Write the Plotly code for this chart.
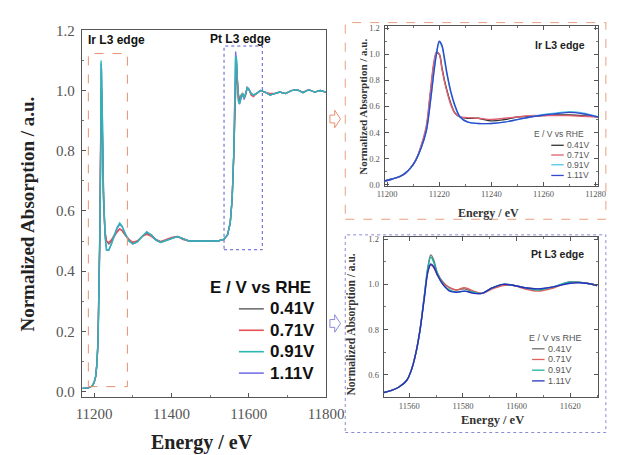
import plotly.graph_objects as go

W, H = 621, 455

# ---------------- data ----------------
series_names = ["0.41V", "0.71V", "0.91V", "1.11V"]
legend_title = "E / V vs RHE"

energy_main = [11170, 11185, 11195, 11200, 11204, 11207, 11210, 11213, 11215, 11217,
               11218, 11219, 11221, 11224, 11228, 11232, 11238, 11245, 11252, 11259,
               11266, 11272, 11280, 11290, 11300, 11312, 11324, 11336, 11348, 11360,
               11372, 11386, 11400, 11415, 11430, 11445, 11460, 11480, 11500, 11520,
               11535, 11545, 11552, 11557, 11561, 11564, 11566, 11568, 11570, 11573,
               11576, 11580, 11584, 11588, 11592, 11596, 11600, 11606, 11612, 11620,
               11630, 11642, 11655, 11668, 11680, 11695, 11710, 11725, 11740, 11755,
               11770, 11785, 11800]

main_041 = [0.01, 0.012, 0.018, 0.03, 0.05, 0.09, 0.17, 0.35, 0.55, 0.85,
            1.0, 1.0, 0.88, 0.65, 0.53, 0.5, 0.49, 0.5, 0.515, 0.53,
            0.54, 0.535, 0.52, 0.505, 0.495, 0.5, 0.515, 0.525, 0.52, 0.505,
            0.498, 0.503, 0.51, 0.515, 0.508, 0.5, 0.5, 0.5, 0.498, 0.5,
            0.505, 0.52, 0.56, 0.64, 0.78, 0.95, 1.08, 1.1, 1.04, 0.98,
            0.965, 0.985, 0.99, 0.975, 0.99, 1.01, 1.005, 0.99, 0.985, 0.99,
            1.0, 0.995, 0.985, 0.99, 0.995, 0.99, 1.0, 1.003, 0.993, 1.003,
            0.995, 1.0, 0.995]
main_071 = [0.01, 0.012, 0.018, 0.03, 0.05, 0.09, 0.17, 0.36, 0.56, 0.86,
            1.01, 1.0, 0.87, 0.64, 0.53, 0.5, 0.495, 0.505, 0.52, 0.53,
            0.54, 0.535, 0.52, 0.505, 0.495, 0.5, 0.515, 0.522, 0.515, 0.503,
            0.498, 0.505, 0.512, 0.515, 0.505, 0.5, 0.5, 0.5, 0.498, 0.5,
            0.505, 0.52, 0.56, 0.64, 0.78, 0.95, 1.07, 1.09, 1.04, 0.99,
            0.975, 0.985, 0.99, 0.975, 0.985, 1.01, 1.005, 0.985, 0.98, 0.99,
            1.0, 0.995, 0.99, 0.99, 0.995, 0.99, 1.0, 1.003, 0.995, 1.003,
            0.995, 1.0, 0.995]
main_091 = [0.01, 0.012, 0.018, 0.03, 0.05, 0.09, 0.16, 0.33, 0.52, 0.82,
            1.1, 1.06, 0.93, 0.68, 0.52, 0.47, 0.47, 0.49, 0.52, 0.545,
            0.56, 0.55, 0.525, 0.5, 0.49, 0.497, 0.515, 0.53, 0.52, 0.503,
            0.495, 0.502, 0.51, 0.515, 0.508, 0.5, 0.5, 0.5, 0.498, 0.5,
            0.505, 0.52, 0.56, 0.64, 0.78, 0.96, 1.11, 1.11, 1.03, 0.97,
            0.955, 0.98, 0.99, 0.975, 0.99, 1.01, 1.005, 0.99, 0.985, 0.99,
            1.0, 0.995, 0.985, 0.99, 0.995, 0.99, 1.0, 1.003, 0.993, 1.003,
            0.995, 1.0, 0.995]
main_111 = [0.01, 0.012, 0.018, 0.03, 0.05, 0.09, 0.16, 0.33, 0.52, 0.82,
            1.09, 1.07, 0.94, 0.68, 0.52, 0.47, 0.47, 0.49, 0.515, 0.54,
            0.555, 0.548, 0.525, 0.5, 0.49, 0.497, 0.515, 0.53, 0.52, 0.503,
            0.495, 0.502, 0.51, 0.515, 0.508, 0.5, 0.5, 0.5, 0.498, 0.5,
            0.505, 0.52, 0.56, 0.64, 0.79, 0.97, 1.13, 1.1, 1.02, 0.965,
            0.955, 0.975, 0.99, 0.97, 0.99, 1.01, 1.005, 0.99, 0.985, 0.99,
            1.0, 0.995, 0.985, 0.99, 0.995, 0.99, 1.0, 1.003, 0.993, 1.003,
            0.995, 1.0, 0.995]

energy_ir = [11199, 11202, 11205, 11207, 11209, 11211, 11213, 11215, 11216.5, 11218,
             11219, 11220, 11221, 11222, 11223, 11224.5, 11226, 11228, 11231, 11235,
             11240, 11245, 11250, 11255, 11260, 11265, 11270, 11275, 11281]
ir_041 = [0.03, 0.045, 0.065, 0.09, 0.13, 0.19, 0.29, 0.43, 0.68, 0.93,
          1.01, 1.00, 0.90, 0.80, 0.72, 0.62, 0.55, 0.52, 0.51, 0.51,
          0.49, 0.50, 0.52, 0.525, 0.53, 0.535, 0.535, 0.53, 0.52]
ir_071 = [0.03, 0.045, 0.065, 0.09, 0.13, 0.19, 0.30, 0.45, 0.70, 0.95,
          1.02, 1.00, 0.89, 0.79, 0.71, 0.61, 0.55, 0.52, 0.515, 0.51,
          0.50, 0.51, 0.52, 0.53, 0.53, 0.53, 0.53, 0.525, 0.52]
ir_091 = [0.03, 0.045, 0.065, 0.09, 0.13, 0.19, 0.28, 0.41, 0.62, 0.88,
          1.02, 1.09, 1.06, 0.95, 0.84, 0.70, 0.60, 0.52, 0.48, 0.47,
          0.47, 0.48, 0.50, 0.52, 0.54, 0.55, 0.56, 0.55, 0.52]
ir_111 = [0.03, 0.045, 0.065, 0.09, 0.13, 0.19, 0.28, 0.41, 0.62, 0.87,
          1.01, 1.10, 1.07, 0.97, 0.85, 0.71, 0.61, 0.52, 0.48, 0.47,
          0.47, 0.48, 0.50, 0.52, 0.535, 0.545, 0.555, 0.545, 0.52]

energy_pt = [11550, 11553, 11556, 11559, 11561, 11562.5, 11564, 11565.5, 11567, 11568,
             11569, 11570.5, 11572.5, 11575, 11577.5, 11580.5, 11584, 11587, 11591, 11595,
             11599, 11603, 11608, 11614, 11620, 11626, 11630]
pt_041 = [0.52, 0.53, 0.545, 0.575, 0.63, 0.70, 0.80, 0.94, 1.08, 1.13,
          1.11, 1.05, 1.01, 0.985, 0.975, 0.98, 0.965, 0.96, 0.985, 1.00,
          0.995, 0.985, 0.98, 0.99, 1.01, 1.005, 0.995]
pt_071 = [0.52, 0.53, 0.545, 0.575, 0.63, 0.70, 0.80, 0.94, 1.06, 1.085,
          1.075, 1.04, 1.005, 0.985, 0.975, 0.985, 0.97, 0.96, 0.98, 0.995,
          0.995, 0.98, 0.97, 0.985, 1.01, 1.005, 0.995]
pt_091 = [0.52, 0.53, 0.545, 0.575, 0.63, 0.70, 0.80, 0.94, 1.08, 1.12,
          1.10, 1.045, 1.0, 0.975, 0.965, 0.97, 0.965, 0.96, 0.985, 1.00,
          0.995, 0.985, 0.975, 0.99, 1.01, 1.005, 0.995]
pt_111 = [0.52, 0.53, 0.545, 0.575, 0.63, 0.70, 0.80, 0.93, 1.06, 1.09,
          1.08, 1.04, 1.0, 0.97, 0.965, 0.97, 0.96, 0.96, 0.985, 1.00,
          0.995, 0.985, 0.98, 0.99, 1.005, 1.005, 0.995]

# highlighted regions in the main panel (data units)
ir_box = [11185, 11286, 0.016, 1.123]
pt_box = [11536, 11635, 0.471, 1.148]

# ---------------- styling ----------------
main_colors = ["#707070", "#e8505a", "#2ab8b0", "#7474e4"]
ir_colors = ["#333333", "#e06070", "#50c8e8", "#3048d0"]
pt_colors = ["#707070", "#e06060", "#20b0a0", "#2830c0"]
SERIF = "Liberation Serif"
SANS = "Liberation Sans"


def px(x):
    return x / W


def py(y):
    return 1 - y / H


fig = go.Figure()

for name, vals, col in zip(series_names, [main_041, main_071, main_111, main_091],
                           [main_colors[0], main_colors[1], main_colors[3], main_colors[2]]):
    fig.add_trace(go.Scatter(x=energy_main, y=vals, mode="lines", name=name,
                             line=dict(color=col, width=1.4), xaxis="x", yaxis="y",
                             showlegend=False))
for name, vals, col in zip(series_names, [ir_041, ir_071, ir_091, ir_111], ir_colors):
    fig.add_trace(go.Scatter(x=energy_ir, y=vals, mode="lines", name=name,
                             line=dict(color=col, width=1.4, shape="spline"),
                             xaxis="x2", yaxis="y2", showlegend=False))
for name, vals, col in zip(series_names, [pt_041, pt_071, pt_091, pt_111], pt_colors):
    fig.add_trace(go.Scatter(x=energy_pt, y=vals, mode="lines", name=name,
                             line=dict(color=col, width=1.4, shape="spline"),
                             xaxis="x3", yaxis="y3", showlegend=False))


def ax(domain, rng, dtick, minor, size, fmt, tick0=None, anchor=None, mirror=True, standoff=3):
    d = dict(domain=domain, range=rng, dtick=dtick, showgrid=False, zeroline=False,
             showline=True, linecolor="#555", linewidth=1, mirror=mirror,
             ticks="inside", ticklen=4, tickcolor="#555", tickformat=fmt,
             tickfont=dict(family=SERIF, size=size, color="#555"),
             minor=dict(ticks="inside", ticklen=2, dtick=minor, tickcolor="#777"),
             anchor=anchor, ticklabelstandoff=standoff)
    if tick0 is not None:
        d["tick0"] = tick0
    return d


fig.update_layout(
    width=W, height=H, margin=dict(l=0, r=0, t=0, b=0),
    paper_bgcolor="white", plot_bgcolor="white", showlegend=False,
    xaxis=ax([px(77), px(332)], [11168, 11800], 200, 100, 15, "d", tick0=11200, anchor="y"),
    yaxis=ax([py(400), py(23)], [-0.02, 1.2], 0.2, 0.1, 15, ".1f", tick0=0, anchor="x"),
    xaxis2=ax([px(393), px(616)], [11199, 11281], 20, 10, 8.5, "d", tick0=11200, anchor="y2",
              mirror="ticks", standoff=0),
    yaxis2=ax([py(183), py(18)], [-0.01, 1.22], 0.2, 0.1, 8.5, ".1f", tick0=0, anchor="x2",
              mirror="ticks", standoff=2),
    xaxis3=ax([px(392), px(616)], [11550.4, 11630.4], 20, 10, 8.5, "d", tick0=11560, anchor="y3",
              mirror="ticks", standoff=0),
    yaxis3=ax([py(400), py(235)], [0.5, 1.21], 0.2, 0.1, 8.5, ".1f", tick0=0, anchor="x3",
              mirror="ticks", standoff=2),
)

shapes = []
# main highlight rectangles
shapes.append(dict(type="rect", xref="x", yref="y", x0=ir_box[0], x1=ir_box[1], y0=ir_box[2], y1=ir_box[3],
                   line=dict(color="#e8906e", width=1, dash="dash")))
shapes.append(dict(type="rect", xref="x", yref="y", x0=pt_box[0], x1=pt_box[1], y0=pt_box[2], y1=pt_box[3],
                   line=dict(color="#5a5ad0", width=1, dash="dot")))
# inset frames
shapes.append(dict(type="rect", xref="paper", yref="paper", x0=px(352), x1=px(624), y0=py(217), y1=py(15),
                   line=dict(color="#e8a080", width=1, dash="dash")))
shapes.append(dict(type="rect", xref="paper", yref="paper", x0=px(352), x1=px(624), y0=py(436), y1=py(233),
                   line=dict(color="#8a8ad8", width=1, dash="dot")))


def arrow(x0, yc, color):
    pts = [(x0, yc - 4), (x0 + 5, yc - 4), (x0 + 5, yc - 9), (x0 + 11, yc),
           (x0 + 5, yc + 9), (x0 + 5, yc + 4), (x0, yc + 4)]
    path = "M " + " L ".join(f"{px(a):.5f},{py(b):.5f}" for a, b in pts) + " Z"
    return dict(type="path", xref="paper", yref="paper", path=path,
                line=dict(color=color, width=1), fillcolor="rgba(0,0,0,0)")


shapes.append(arrow(336, 114, "#e8906e"))
shapes.append(arrow(336, 324, "#8a8ad8"))

annotations = []


def text(x, y, s, size, family=SANS, bold=False, color="#111", xanchor="left", angle=0):
    annotations.append(dict(xref="paper", yref="paper", x=px(x), y=py(y), text=s, showarrow=False,
                            xanchor=xanchor, yanchor="middle", textangle=angle,
                            font=dict(family=family, size=size, color=color,
                                      weight="bold" if bold else "normal")))


# titles
text(20, 212, "Normalized Absorption / a.u.", 19, SERIF, True, "#222", "center", -90)
text(202, 446, "Energy / eV", 20, SERIF, True, "#222", "center")
text(371, 101, "Normalized Absorption / a.u.", 11, SERIF, True, "#333", "center", -90)
text(502, 211, "Energy / eV", 12, SERIF, True, "#333", "center")
text(358, 325, "Normalized Absorption / a.u.", 11.5, SERIF, True, "#333", "center", -90)
text(506, 423, "Energy / eV", 12.5, SERIF, True, "#333", "center")
# edge labels
text(81, 33, "Ir L3 edge", 12, SANS, True, "#111")
text(209, 32, "Pt L3 edge", 12, SANS, True, "#111")
text(548, 38, "Ir L3 edge", 10.5, SANS, True, "#222")
text(544, 253, "Pt L3 edge", 10.5, SANS, True, "#222")


def legend(title_x, title_y, line_x0, line_x1, text_x, ys, colors, size, bold, tcolor, lw):
    text(title_x, title_y, legend_title, size, SANS, bold, tcolor, "right")
    for nm, yy, c in zip(series_names, ys, colors):
        shapes.append(dict(type="line", xref="paper", yref="paper", x0=px(line_x0), x1=px(line_x1),
                           y0=py(yy), y1=py(yy), line=dict(color=c, width=lw)))
        text(text_x, yy, nm, size, SANS, bold, tcolor, "left")


legend(318, 287, 241, 267, 271, [309, 331, 353, 375], main_colors, 17, True, "#111", 1.6)
legend(603, 129, 567, 580, 581, [141, 151, 161, 172], ir_colors, 8.5, False, "#555", 1.3)
legend(601, 339, 547, 560, 561, [350, 361, 372, 383], pt_colors, 9, False, "#555", 1.3)

fig.update_layout(shapes=shapes, annotations=annotations)
fig.write_html("out.html")
